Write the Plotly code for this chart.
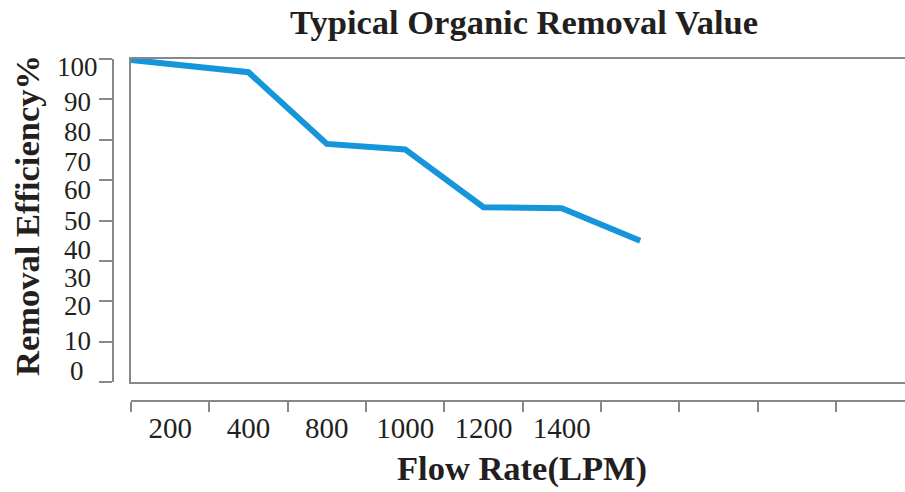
import plotly.graph_objects as go

W, H = 905, 492

# ---- data ----
flow_labels = ["200", "400", "800", "1000", "1200", "1400"]
label_slots = [0.5, 1.5, 2.5, 3.5, 4.5, 5.5]          # slot centres on the x scale
point_slots = [0, 1.5, 2.5, 3.5, 4.5, 5.5, 6.5]       # where the measured points sit
efficiency = [99.7, 95.9, 73.7, 72.0, 54.1, 53.8, 43.7]

y_labels = ["100", "90", "80", "70", "60", "50", "40", "30", "20", "10", "0"]
y_label_at = [97.5, 86.7, 77.4, 68.1, 59.4, 49.8, 40.9, 32.3, 23.6, 12.7, 3.4]

grid_ticks_x = list(range(0, 10))
grid_ticks_y = list(range(0, 9))

# ---- layout helpers ----
def px_x(p):
    return p / W

def px_y(p):
    return (H - p) / H

AX = "#888888"
TXT = "#231f20"
SERIF = "Liberation Serif"

x_left, x_right = 131, 905
y_top, y_bot = 59, 382
unit = 78.33
x_range = [0, (x_right - x_left) / unit]

fig = go.Figure()
fig.add_trace(go.Scatter(
    x=point_slots, y=efficiency, mode="lines",
    line=dict(color="#1596db", width=6), hoverinfo="skip", showlegend=False,
    xaxis="x", yaxis="y"))
# helper traces so the extra axes are drawn
fig.add_trace(go.Scatter(x=[None], y=[None], xaxis="x2", yaxis="y2", showlegend=False, hoverinfo="skip"))
fig.add_trace(go.Scatter(x=[None], y=[None], xaxis="x3", yaxis="y2", showlegend=False, hoverinfo="skip"))

dom_y = [px_y(y_bot), px_y(y_top)]
fig.update_layout(
    width=W, height=H, autosize=False,
    margin=dict(l=0, r=0, t=0, b=0),
    paper_bgcolor="white", plot_bgcolor="white",
    title=dict(text="<b>Typical Organic Removal Value</b>", x=px_x(524), xref="paper", xanchor="center",
               y=px_y(22), yref="container", yanchor="middle",
               font=dict(family=SERIF, size=34.5, color=TXT)),
    xaxis=dict(domain=[px_x(x_left), 1], range=x_range, showgrid=False, zeroline=False,
               showticklabels=False, ticks="", showline=True, mirror=True,
               linecolor=AX, linewidth=1.6),
    yaxis=dict(domain=dom_y, range=[0, 100], showgrid=False, zeroline=False,
               showticklabels=False, ticks="", showline=True, linecolor=AX, linewidth=1.6),
    xaxis2=dict(overlaying="x", anchor="free", position=px_y(401), range=x_range,
                tickmode="array", tickvals=grid_ticks_x, ticks="outside", ticklen=10,
                tickcolor=AX, tickwidth=1.6, showticklabels=False, showgrid=False, zeroline=False,
                showline=True, linecolor=AX, linewidth=1.6),
    xaxis3=dict(overlaying="x", anchor="free", position=px_y(401), range=x_range,
                tickmode="array", tickvals=label_slots, ticktext=flow_labels, ticks="",
                ticklabelstandoff=7,
                tickfont=dict(family=SERIF, size=29, color=TXT),
                showgrid=False, zeroline=False, showline=False),
    yaxis2=dict(overlaying="y", anchor="free", position=px_x(113), side="left", range=[0, 8],
                tickmode="array", tickvals=grid_ticks_y, ticks="outside", ticklen=13,
                tickcolor=AX, tickwidth=1.6, showticklabels=False, showgrid=False, zeroline=False,
                showline=True, linecolor=AX, linewidth=1.6),
)

for txt, v in zip(y_labels, y_label_at):
    fig.add_annotation(text=txt, x=px_x(77), xref="paper", y=v, yref="y",
                       xanchor="center", yanchor="middle", showarrow=False,
                       font=dict(family=SERIF, size=27, color=TXT))

fig.add_annotation(text="<b>Flow Rate(LPM)</b>", x=px_x(522), xref="paper", y=px_y(468), yref="paper",
                   xanchor="center", yanchor="middle", showarrow=False,
                   font=dict(family=SERIF, size=34.5, color=TXT))
fig.add_annotation(text="<b>Removal Efficiency%</b>", x=px_x(27), xref="paper", y=px_y(216), yref="paper",
                   xanchor="center", yanchor="middle", showarrow=False, textangle=-90,
                   font=dict(family=SERIF, size=34.5, color=TXT))

fig.write_html("out.html", config={"displayModeBar": False},
               post_script="document.body.style.margin='0';document.body.style.overflow='hidden';")
